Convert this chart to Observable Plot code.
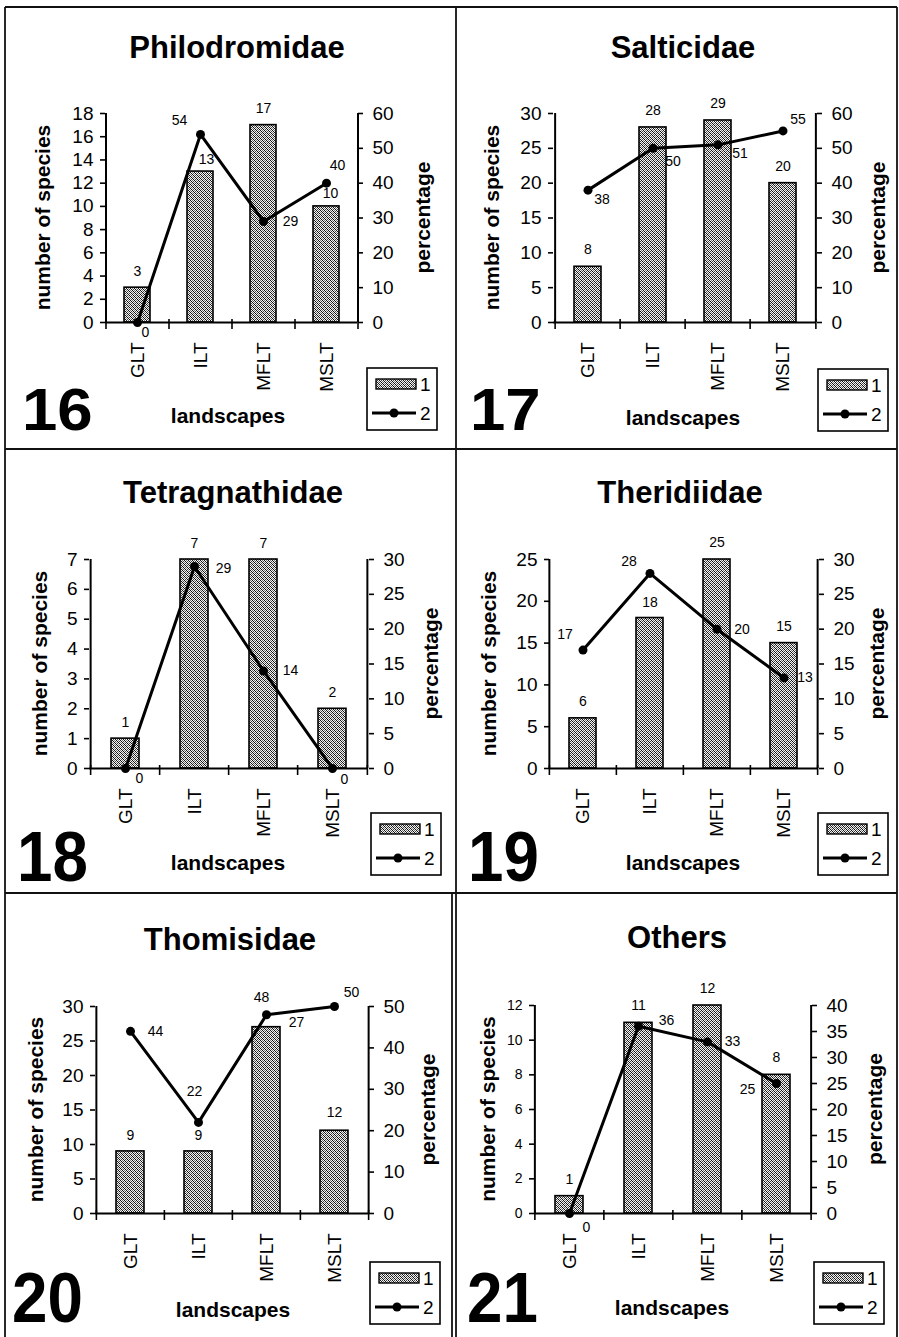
<!DOCTYPE html>
<html><head><meta charset="utf-8">
<script src="https://cdn.jsdelivr.net/npm/d3@7"></script>
<script src="https://cdn.jsdelivr.net/npm/@observablehq/plot@0.6"></script>
<style>
html,body{margin:0;padding:0;background:#fff;}
#page{position:relative;width:899px;height:1337px;overflow:hidden;background:#fff;font-family:"Liberation Sans",Arial,sans-serif;}
#page svg.plotsvg{position:absolute;max-width:none;}
#overlay{position:absolute;left:0;top:0;pointer-events:none;}
</style></head><body>
<svg width="0" height="0" style="position:absolute">
  <defs>
    <pattern id="stipple" patternUnits="userSpaceOnUse" width="4" height="4">
      <rect width="4" height="4" fill="#f4f4f4"/>
      <rect x="0" y="0" width="1" height="1" fill="#111"/>
      <rect x="1" y="1" width="1" height="1" fill="#111"/>
      <rect x="2" y="2" width="1" height="1" fill="#111"/>
      <rect x="3" y="3" width="1" height="1" fill="#111"/>
      <rect x="2" y="0" width="1" height="1" fill="#444"/>
      <rect x="0" y="2" width="1" height="1" fill="#444"/>
      <rect x="3" y="1" width="1" height="1" fill="#777"/>
      <rect x="1" y="3" width="1" height="1" fill="#777"/>
    </pattern>
  </defs>
</svg>
<div id="page"></div>
<script>
// ---------------- data ----------------
const landscapes = ["GLT", "ILT", "MFLT", "MSLT"];
const familyNames = ["Philodromidae", "Salticidae", "Tetragnathidae", "Theridiidae", "Thomisidae", "Others"];
const figureNumbers = ["16", "17", "18", "19", "20", "21"];
const legendLabels = ["1", "2"];
const leftAxisTitle = "number of species";
const rightAxisTitle = "percentage";
const xAxisTitle = "landscapes";

const philodromidaeSpecies = [3, 13, 17, 10];
const philodromidaePercent = [0, 54, 29, 40];
const salticidaeSpecies = [8, 28, 29, 20];
const salticidaePercent = [38, 50, 51, 55];
const tetragnathidaeSpecies = [1, 7, 7, 2];
const tetragnathidaePercent = [0, 29, 14, 0];
const theridiidaeSpecies = [6, 18, 25, 15];
const theridiidaePercent = [17, 28, 20, 13];
const thomisidaeSpecies = [9, 9, 27, 12];
const thomisidaePercent = [44, 22, 48, 50];
const othersSpecies = [1, 11, 12, 8];
const othersPercent = [0, 36, 33, 25];

const philodromidaeSpeciesTicks = [0, 2, 4, 6, 8, 10, 12, 14, 16, 18];
const philodromidaePercentTicks = [0, 10, 20, 30, 40, 50, 60];
const salticidaeSpeciesTicks = [0, 5, 10, 15, 20, 25, 30];
const salticidaePercentTicks = [0, 10, 20, 30, 40, 50, 60];
const tetragnathidaeSpeciesTicks = [0, 1, 2, 3, 4, 5, 6, 7];
const tetragnathidaePercentTicks = [0, 5, 10, 15, 20, 25, 30];
const theridiidaeSpeciesTicks = [0, 5, 10, 15, 20, 25];
const theridiidaePercentTicks = [0, 5, 10, 15, 20, 25, 30];
const thomisidaeSpeciesTicks = [0, 5, 10, 15, 20, 25, 30];
const thomisidaePercentTicks = [0, 10, 20, 30, 40, 50];
const othersSpeciesTicks = [0, 2, 4, 6, 8, 10, 12];
const othersPercentTicks = [0, 5, 10, 15, 20, 25, 30, 35, 40];

const speciesSeries = [philodromidaeSpecies, salticidaeSpecies, tetragnathidaeSpecies, theridiidaeSpecies, thomisidaeSpecies, othersSpecies];
const percentSeries = [philodromidaePercent, salticidaePercent, tetragnathidaePercent, theridiidaePercent, thomisidaePercent, othersPercent];
const speciesTickSets = [philodromidaeSpeciesTicks, salticidaeSpeciesTicks, tetragnathidaeSpeciesTicks, theridiidaeSpeciesTicks, thomisidaeSpeciesTicks, othersSpeciesTicks];
const percentTickSets = [philodromidaePercentTicks, salticidaePercentTicks, tetragnathidaePercentTicks, theridiidaePercentTicks, thomisidaePercentTicks, othersPercentTicks];

// ---------------- layout (positions & styles only) ----------------
const layout = [
  {panel: [5, 7, 451, 442], axisL: 105, axisR: 357, yTop: 113, yZero: 322, title: [237, 58], xTitle: [228, 423], num: [22, 430], numRow: 0, yLT: 42, yRT: 422, legend: [367, 368], leftFont: 19},
  {panel: [456, 7, 441, 442], axisL: 553, axisR: 816, yTop: 113, yZero: 322, title: [683, 58], xTitle: [683, 425], num: [470, 430], numRow: 0, yLT: 491, yRT: 877, legend: [818, 369], leftFont: 19},
  {panel: [5, 449, 451, 444], axisL: 89, axisR: 368, yTop: 559, yZero: 768, title: [233, 503], xTitle: [228, 870], num: [17, 881], numRow: 1, yLT: 39, yRT: 430, legend: [371, 813], leftFont: 19},
  {panel: [456, 449, 441, 444], axisL: 549, axisR: 818, yTop: 559, yZero: 768, title: [680, 503], xTitle: [683, 870], num: [468, 881], numRow: 1, yLT: 488, yRT: 876, legend: [818, 813], leftFont: 19},
  {panel: [5, 893, 451, 444], axisL: 95, axisR: 368, yTop: 1006, yZero: 1213, title: [230, 950], xTitle: [233, 1317], num: [12, 1322], numRow: 1, yLT: 35, yRT: 427, legend: [370, 1262], leftFont: 19},
  {panel: [456, 893, 441, 444], axisL: 534, axisR: 811, yTop: 1005, yZero: 1213, title: [677, 948], xTitle: [672, 1315], num: [467, 1322], numRow: 1, yLT: 487, yRT: 874, legend: [814, 1262], leftFont: 14}
];
// label nudges (pixel offsets of value labels)
const barLabelNudges = [
  [[0, -16], [6, -12], [0, -17], [4, -13]],
  [[0, -17], [0, -17], [0, -17], [0, -17]],
  [[0, -16], [0, -16], [0, -16], [0, -16]],
  [[0, -17], [0, -16], [0, -17], [0, -17]],
  [[0, -16], [0, -16], [30, -5], [0, -18]],
  [[0, -17], [0, -17], [0, -17], [0, -17]]
];
const percentLabelNudges = [
  [[8, 10], [-21, -14], [27, 0], [11, -18]],
  [[14, 9], [20, 13], [22, 9], [15, -11]],
  [[14, 10], [29, 2], [27, 0], [12, 11]],
  [[-18, -16], [-21, -12], [25, 0], [21, 0]],
  [[25, 0], [-4, -31], [-5, -17], [17, -14]],
  [[17, 14], [28, -6], [25, 0], [-29, 6]]
];

const FONT = "'Liberation Sans', Arial, Helvetica, sans-serif";
const page = document.getElementById("page");

function panelPlot(idx) {
  const cfg = layout[idx];
  const [pl, pt, pw, ph] = cfg.panel;
  const species = speciesSeries[idx], percent = percentSeries[idx];
  const sTicks = speciesTickSets[idx], pTicks = percentTickSets[idx];
  const sMax = sTicks[sTicks.length - 1], pMax = pTicks[pTicks.length - 1];
  const k = sMax / pMax;
  const rows = landscapes.map((c, i) => ({c, n: species[i], p: percent[i], pk: percent[i] * k}));
  const step = (cfg.axisR - cfg.axisL) / landscapes.length;
  const unit = sMax / (cfg.yZero - cfg.yTop); // data units per pixel
  const last = landscapes[landscapes.length - 1];
  const ink = {stroke: "#000", strokeWidth: 2};
  const marks = [
    Plot.barY(rows, {x: "c", y: "n", fill: "url(#stipple)", stroke: "#000", strokeWidth: 1.6}),
    Plot.ruleY([0], ink),
    Plot.ruleX([landscapes[0]], {x: d => d, dx: -step / 2, y1: 0, y2: sMax, ...ink}),
    Plot.ruleX([last], {x: d => d, dx: step / 2, y1: 0, y2: sMax, ...ink}),
    Plot.ruleX(landscapes, {x: d => d, dx: -step / 2, y1: -7 * unit, y2: 3 * unit, stroke: "#000", strokeWidth: 1.6}),
    Plot.ruleX([last], {x: d => d, dx: step / 2, y1: -7 * unit, y2: 3 * unit, stroke: "#000", strokeWidth: 1.6}),
    Plot.axisY({anchor: "left", ticks: sTicks, tickFormat: d => String(d), tickSize: 5, tickPadding: 7, fontSize: cfg.leftFont, label: null, strokeWidth: 1.6}),
    Plot.axisY({anchor: "right", ticks: pTicks.map(t => t * k), tickFormat: d => String(Math.round(d / k)), tickSize: 5, tickPadding: 10, fontSize: 19, label: null, strokeWidth: 1.6}),
    Plot.axisX({tickRotate: -90, tickSize: 0, tickPadding: 20, fontSize: 19, label: null}),
    Plot.line(rows, {x: "c", y: "pk", stroke: "#000", strokeWidth: 3}),
    Plot.dot(rows, {x: "c", y: "pk", r: 4.5, fill: "#000"})
  ];
  rows.forEach((r, i) => {
    marks.push(Plot.text([r], {x: "c", y: "n", text: d => String(d.n), dx: barLabelNudges[idx][i][0], dy: barLabelNudges[idx][i][1], fontSize: 14, fill: "#000"}));
    marks.push(Plot.text([r], {x: "c", y: "pk", text: d => String(d.p), dx: percentLabelNudges[idx][i][0], dy: percentLabelNudges[idx][i][1], fontSize: 14, fill: "#000"}));
  });
  const svg = Plot.plot({
    width: pw, height: ph,
    marginLeft: cfg.axisL - pl, marginRight: pl + pw - cfg.axisR,
    marginTop: cfg.yTop - pt, marginBottom: pt + ph - cfg.yZero,
    x: {type: "band", domain: landscapes, paddingInner: 0.59, paddingOuter: 0.295},
    y: {domain: [0, sMax]},
    style: {fontFamily: FONT, fontSize: "13px", color: "#000", background: "transparent", overflow: "visible"},
    marks
  });
  svg.classList.add("plotsvg");
  svg.style.left = pl + "px";
  svg.style.top = pt + "px";
  page.appendChild(svg);
}

for (let i = 0; i < familyNames.length; i++) panelPlot(i);

// ---------------- overlay: titles, figure numbers, legends, frame ----------------
const ov = d3.select(page).append("svg").attr("id", "overlay")
  .attr("width", 899).attr("height", 1337)
  .style("font-family", FONT);

layout.forEach((cfg, i) => {
  ov.append("text").attr("x", cfg.title[0]).attr("y", cfg.title[1])
    .attr("text-anchor", "middle").attr("font-size", 31).attr("font-weight", "bold").text(familyNames[i]);
  ov.append("text").attr("x", cfg.xTitle[0]).attr("y", cfg.xTitle[1])
    .attr("text-anchor", "middle").attr("font-size", 21).attr("font-weight", "bold").text(xAxisTitle);
  const midY = (cfg.yTop + cfg.yZero) / 2;
  ov.append("text").attr("transform", `translate(${cfg.yLT},${midY}) rotate(-90)`)
    .attr("text-anchor", "middle").attr("dy", "0.36em").attr("font-size", 21).attr("font-weight", "bold").text(leftAxisTitle);
  ov.append("text").attr("transform", `translate(${cfg.yRT},${midY}) rotate(-90)`)
    .attr("text-anchor", "middle").attr("dy", "0.36em").attr("font-size", 21).attr("font-weight", "bold").text(rightAxisTitle);
  const [nfs, nsx] = cfg.numRow === 0 ? [60, 1.06] : [70, 0.91];
  ov.append("text").attr("transform", `translate(${cfg.num[0]},${cfg.num[1]}) scale(${nsx},1)`)
    .attr("font-size", nfs).attr("font-weight", "bold").text(figureNumbers[i]);
  // legend
  const [lx, ly] = cfg.legend;
  const g = ov.append("g").attr("transform", `translate(${lx},${ly})`);
  g.append("rect").attr("width", 70).attr("height", 62).attr("fill", "#fff").attr("stroke", "#000").attr("stroke-width", 1.6);
  g.append("rect").attr("x", 9).attr("y", 11).attr("width", 40).attr("height", 10)
    .attr("fill", "url(#stipple)").attr("stroke", "#000").attr("stroke-width", 1.4);
  g.append("text").attr("x", 53).attr("y", 23).attr("font-size", 19).text(legendLabels[0]);
  g.append("line").attr("x1", 5).attr("x2", 49).attr("y1", 45).attr("y2", 45).attr("stroke", "#000").attr("stroke-width", 3);
  g.append("circle").attr("cx", 27).attr("cy", 45).attr("r", 4.5).attr("fill", "#000");
  g.append("text").attr("x", 53).attr("y", 52).attr("font-size", 19).text(legendLabels[1]);
});

const frame = [
  [5, 7, 897, 7], [5, 7, 5, 1337], [897, 7, 897, 1337], [456, 7, 456, 1337],
  [5, 449, 897, 449], [5, 893, 897, 893], [452, 893, 452, 1337]
];
ov.selectAll("line.frame").data(frame).join("line").attr("class", "frame")
  .attr("x1", d => d[0]).attr("y1", d => d[1]).attr("x2", d => d[2]).attr("y2", d => d[3])
  .attr("stroke", "#111").attr("stroke-width", 1.8);
</script>
</body></html>
